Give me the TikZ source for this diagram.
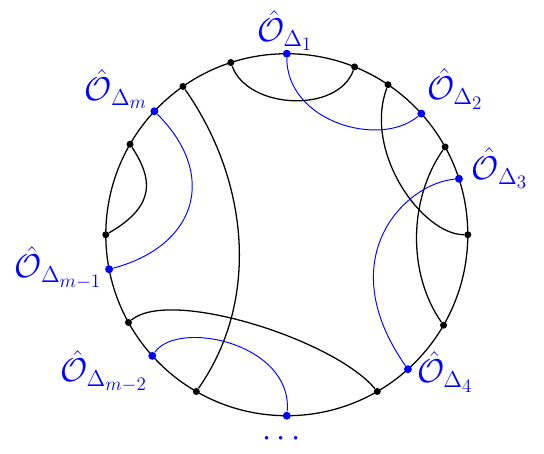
\documentclass[tikz,border=0pt]{standalone}
\usepackage{amsmath}
\usepackage{amssymb}
\usepackage{tikz}

\begin{document}
\begin{tikzpicture}[bdot/.style={circle,fill=black,inner sep=0pt,minimum size=4.4pt},
  odot/.style={circle,fill=blue,inner sep=0pt,minimum size=5pt},
  lbl/.style={blue,font=\huge},
  wick/.style={black,thick},
  owick/.style={blue,semithick}]
  \useasboundingbox (-6.338,-4.824) rectangle (5.684,5.187);
  \draw[thick] (0,0) circle (4);
  % black points
  \node[bdot] (n108) at (108:4) {};
  \node[bdot] (n125) at (125:4) {};
  \node[bdot] (n150) at (150:4) {};
  \node[bdot] (n180) at (180:4) {};
  \node[bdot] (n209) at (209:4) {};
  \node[bdot] (n240) at (240:4) {};
  \node[bdot] (n300) at (300:4) {};
  \node[bdot] (n330) at (330:4) {};
  \node[bdot] (n0) at (0:4) {};
  \node[bdot] (n29) at (29:4) {};
  \node[bdot] (n56) at (56:4) {};
  \node[bdot] (n68) at (68:4) {};
  % operator insertions
  \node[odot] (o1) at (90:4) {};
  \node[odot] (o2) at (42:4) {};
  \node[odot] (o3) at (18:4) {};
  \node[odot] (o4) at (312:4) {};
  \node[odot] (obot) at (270:4) {};
  \node[odot] (omm2) at (222:4) {};
  \node[odot] (omm1) at (191:4) {};
  \node[odot] (om) at (137:4) {};
  % black contractions
  \draw[wick] (n108) .. controls +(-70:1.1) and +(-110:1.1) .. (n68);
  \draw[wick] (n125) .. controls +(-55:2.5) and +(55:2.5) .. (n240);
  \draw[wick] (n150) .. controls +(-57:0.9) and +(30:1.3) .. (n180);
  \draw[wick] (n56) .. controls +(-110:1.6) and +(180:1.0) .. (n0);
  \draw[wick] (n29) .. controls +(-125:1.4) and +(125:1.4) .. (n330);
  \draw[wick] (n209) .. controls +(40:1.2) and +(130:1.5) .. (n300);
  % blue contractions
  \draw[owick] (o1) .. controls +(-90:1.5) and +(-140:1.2) .. (o2);
  \draw[owick] (om) .. controls +(-45:2.0) and +(15:2.0) .. (omm1);
  \draw[owick] (o3) .. controls +(185:1.2) and +(125:3.0) .. (o4);
  \draw[owick] (omm2) .. controls +(55:1.0) and +(85:1.6) .. (obot);
  % labels
  \node[lbl] (l1) at (-0.04,4.51) {$\hat{\mathcal{O}}_{\Delta_1}$};
  \node[lbl] (l2) at (3.72,3.22) {$\hat{\mathcal{O}}_{\Delta_2}$};
  \node[lbl] (l3) at (4.71,1.47) {$\hat{\mathcal{O}}_{\Delta_3}$};
  \node[lbl] (l4) at (3.50,-3.03) {$\hat{\mathcal{O}}_{\Delta_4}$};
  \node[lbl] (lm) at (-3.77,3.22) {$\hat{\mathcal{O}}_{\Delta_m}$};
  \node[lbl] (lm1) at (-5.05,-0.73) {$\hat{\mathcal{O}}_{\Delta_{m-1}}$};
  \node[lbl] (lm2) at (-4.04,-3.02) {$\hat{\mathcal{O}}_{\Delta_{m-2}}$};
  \node[blue,font=\huge] (dots) at (-0.06,-4.52) {$\cdots$};
\end{tikzpicture}
\end{document}
